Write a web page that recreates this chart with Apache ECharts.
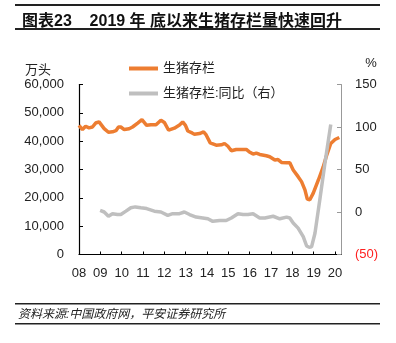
<!DOCTYPE html>
<html><head><meta charset="utf-8">
<script src="https://cdn.jsdelivr.net/npm/echarts@6/dist/echarts.min.js"></script>
<style>html,body{margin:0;padding:0;background:#fff}#c{width:396px;height:343px}</style>
</head><body><div id="c"></div>
<script>
// Hog inventory (万头), read at fractional year positions
const invYears = [2008.00,2008.16,2008.31,2008.47,2008.63,2008.78,2008.94,2009.02,2009.18,2009.38,2009.57,2009.73,2009.85,2009.96,2010.12,2010.35,2010.51,2010.75,2010.95,2011.17,2011.37,2011.61,2011.84,2012.00,2012.20,2012.47,2012.71,2012.86,2012.99,2013.10,2013.30,2013.41,2013.65,2013.84,2013.96,2014.15,2014.43,2014.67,2014.82,2014.98,2015.14,2015.37,2015.84,2015.97,2016.16,2016.31,2016.47,2016.78,2016.94,2017.18,2017.33,2017.49,2017.73,2017.88,2018.04,2018.27,2018.43,2018.59,2018.70,2018.82,2018.98,2019.22,2019.45,2019.61,2019.80,2020.00,2020.20];
const invValues = [45600,44100,45260,44700,45000,46400,46800,46500,44450,43150,43300,43700,45000,45000,44100,44400,45000,46400,47600,45600,45800,45800,47370,46600,43860,44600,45700,46770,45600,43600,42900,42450,42700,43270,42200,39400,38600,38700,39180,38200,36600,37080,37080,36300,35440,35800,35300,34850,34500,33330,33500,32500,32400,32400,29820,27480,25720,22800,19530,19300,21650,26300,31000,35090,39180,40600,41300];
// YoY change (%), right axis
const yoyYears = [2008.99,2009.18,2009.38,2009.57,2009.80,2009.96,2010.20,2010.43,2010.64,2010.90,2011.17,2011.53,2011.84,2012.16,2012.39,2012.71,2012.94,2013.18,2013.49,2013.80,2014.04,2014.27,2014.59,2014.90,2015.14,2015.45,2015.69,2015.92,2016.16,2016.47,2016.71,2017.10,2017.41,2017.73,2017.88,2018.04,2018.27,2018.51,2018.67,2018.79,2018.90,2019.06,2019.29,2019.53,2019.80];
const yoyValues = [1.8,0,-5,-2,-3,-3,1,5,6,5,4,1,0,-4,-2,-2,0,-3,-6,-7,-8,-11,-10,-10,-7,-2,-3,-3,-2,-7,-7,-5,-8,-6,-7,-13,-19,-29,-40,-41.5,-41,-25,15,58,103];
const seriesNames = ['生猪存栏','生猪存栏:同比（右）'];
const leftTicks = {min:0,max:60000,interval:10000};
const rightTicks = {min:-50,max:150,interval:50};

const F = '"Liberation Sans", Arial, "Noto Sans CJK SC", sans-serif';
const chart = echarts.init(document.getElementById('c'), null, {renderer:'canvas'});
const pair = (xs, ys) => xs.map((x,i)=>[x, ys[i]]);
const rule = (top, h) => ({type:'group', left:15, top:top, bounding:'raw', z:50,
  children:[{type:'rect', shape:{x:0, y:0, width:365, height:h}, style:{fill:'#222222', opacity:1}, z:50}]});
chart.setOption({
  animation:false,
  textStyle:{fontFamily:F},
  title:{text:'图表23    2019 年 底以来生猪存栏量快速回升', left:17, top:9,
    textStyle:{fontSize:16, fontWeight:'bold', color:'#111', fontFamily:F}},
  legend:{orient:'vertical', left:124, top:57, itemGap:12, itemWidth:29, itemHeight:4, icon:'rect',
    textStyle:{fontSize:13, color:'#222', fontFamily:F},
    data:[{name:seriesNames[0]},{name:seriesNames[1]}]},
  grid:{left:79, right:55, top:84.5, bottom:88.5},
  xAxis:{type:'value', min:2008, max:2020.28, interval:1,
    axisLine:{lineStyle:{color:'#000', width:1.2}},
    axisTick:{inside:true, length:3, lineStyle:{color:'#000'}},
    splitLine:{show:false},
    axisLabel:{color:'#222', fontSize:13, margin:12, showMaxLabel:false,
      formatter:v=> Math.abs(v-Math.round(v))<1e-6 ? String(Math.round(v)).slice(2) : ''}},
  yAxis:[
    {type:'value', min:leftTicks.min, max:leftTicks.max, interval:leftTicks.interval,
     axisLine:{show:true, lineStyle:{color:'#000', width:1.2}},
     axisTick:{show:true, inside:true, length:4, lineStyle:{color:'#000'}},
     splitLine:{show:false},
     axisLabel:{color:'#222', fontSize:13, margin:15, formatter:v=>v.toLocaleString('en-US')}},
    {type:'value', min:rightTicks.min, max:rightTicks.max, interval:rightTicks.interval, position:'right',
     axisLine:{show:true, lineStyle:{color:'#999', width:1}},
     axisTick:{show:true, inside:true, length:4, lineStyle:{color:'#999'}},
     splitLine:{show:false},
     axisLabel:{color:'#222', fontSize:13, margin:14,
       formatter:v=> v<0 ? '{neg|('+Math.abs(v)+')}' : String(v),
       rich:{neg:{color:'#ff2020', fontSize:13, fontFamily:F}}}}
  ],
  series:[
    {name:seriesNames[0], type:'line', yAxisIndex:0, symbol:'none', smooth:false,
     data:pair(invYears, invValues), lineStyle:{color:'#ED7D31', width:3.5}, itemStyle:{color:'#ED7D31'}},
    {name:seriesNames[1], type:'line', yAxisIndex:1, symbol:'none',
     data:pair(yoyYears, yoyValues), lineStyle:{color:'#BFBFBF', width:3.5}, itemStyle:{color:'#BFBFBF'}}
  ],
  graphic:[
    rule(4, 2), rule(28, 2), rule(303, 1.5), rule(323, 1.5),
    {type:'text', x:38, y:70, style:{text:'万头', fill:'#222', font:'13px '+F, textAlign:'center', textVerticalAlign:'middle'}},
    {type:'text', x:371, y:63, style:{text:'%', fill:'#222', font:'13px '+F, textAlign:'center', textVerticalAlign:'middle'}},
    {type:'text', x:18, y:315, style:{text:'资料来源:中国政府网，平安证券研究所', font:'italic 12px '+F, fill:'#222', textVerticalAlign:'middle'}}
  ]
});
</script></body></html>
